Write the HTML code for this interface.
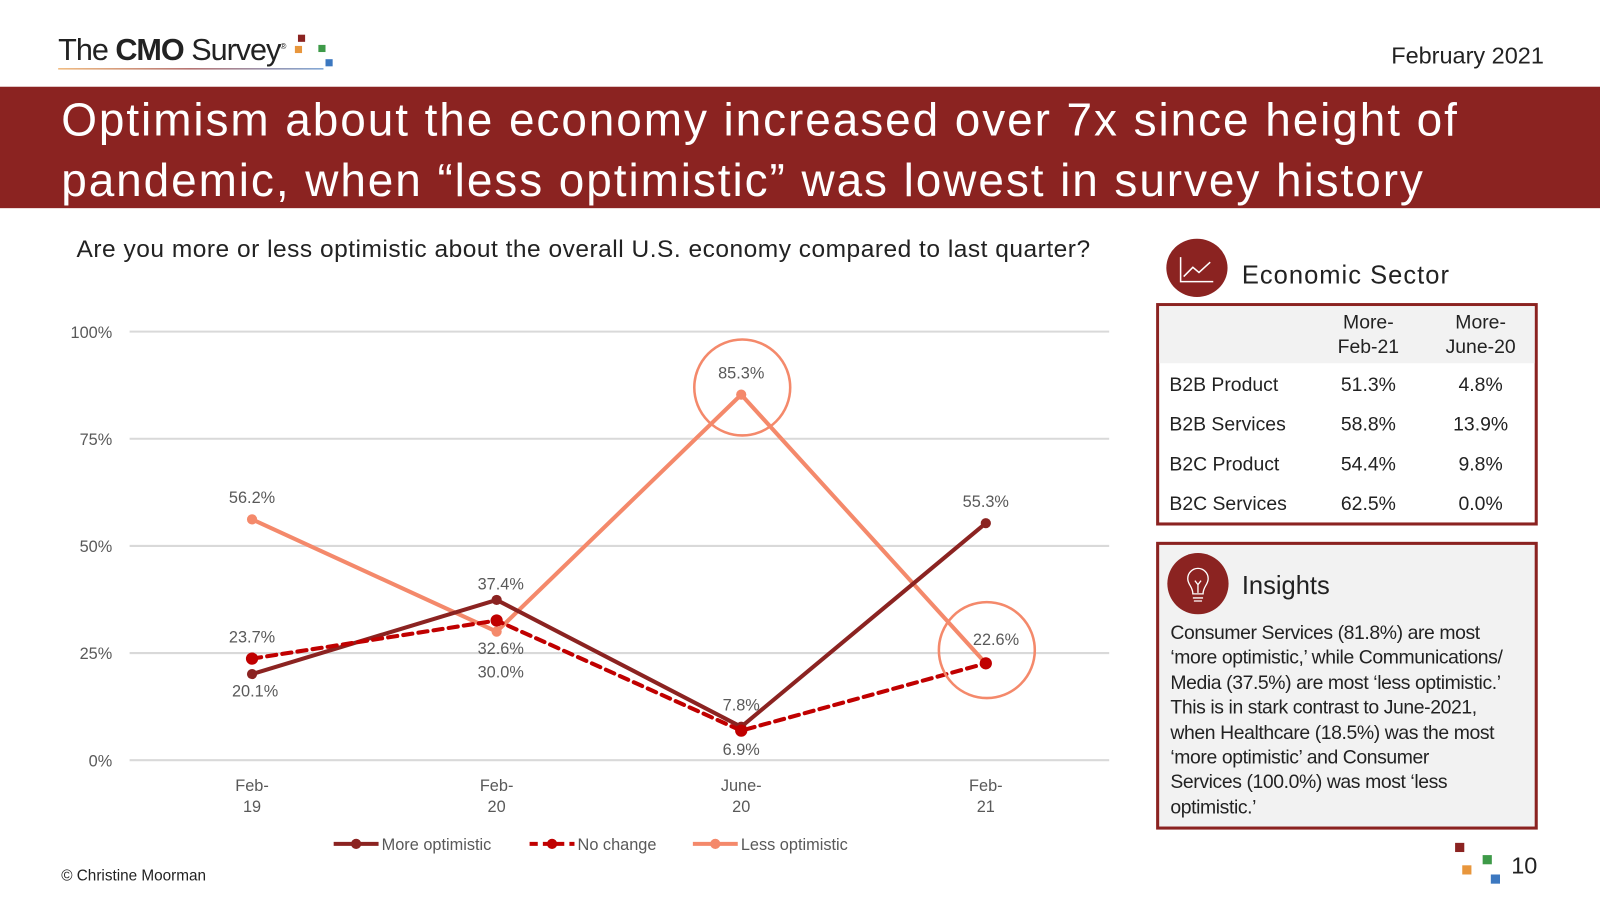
<!DOCTYPE html>
<html><head><meta charset="utf-8"><style>
html,body{margin:0;padding:0;background:#fff;width:1600px;height:900px;overflow:hidden}
#w{position:absolute;left:0;top:0;width:1568px;height:882px;transform:scale(1.020408);transform-origin:0 0;font-family:"Liberation Sans",sans-serif;color:#222}
.a{position:absolute;white-space:nowrap}
</style></head><body>
<div id="w">
<div class="a" style="left:57px;top:33px;font-size:30px;letter-spacing:-1px;color:#222">The <b>CMO</b> Survey<sup style="font-size:8px">®</sup></div>
<div class="a" style="left:292px;top:34px;width:40px;height:36px">
<div class="a" style="left:0;top:0;width:7px;height:7px;background:#8B2321"></div>
<div class="a" style="left:-3px;top:11px;width:7px;height:7px;background:#E8963C"></div>
<div class="a" style="left:20px;top:10px;width:7px;height:7px;background:#3E9A48"></div>
<div class="a" style="left:27px;top:24px;width:7px;height:7px;background:#3C78C0"></div></div>
<div class="a" style="left:57px;top:67px;width:260px;height:1px;background:linear-gradient(90deg,#e8963c,#8B2321,#3c78c0)"></div>
<div class="a" style="right:55px;top:41px;font-size:23px">February 2021</div>
<div class="a" style="left:0;top:85px;width:1568px;height:119px;background:#8B2321"></div>
<div class="a" style="left:60px;top:88px;font-size:45px;line-height:59px;color:#fff;letter-spacing:1.9px">Optimism about the economy increased over 7x since height of<br>pandemic, when “less optimistic” was lowest in survey history</div>
<div class="a" style="left:75px;top:231px;font-size:24px;letter-spacing:0.5px">Are you more or less optimistic about the overall U.S. economy compared to last quarter?</div>
<svg class="a" style="left:0;top:0" width="1120" height="882" id="chart"></svg>
<div class="a" style="left:1143px;top:234px;width:60px;height:57px;border-radius:50%;background:#8B2321">
<svg width="60" height="57"><path d="M14 18 V42 H46" stroke="#fff" fill="none" stroke-width="1.5"/><path d="M17 37 L26 28 L32 33 L43 23" stroke="#fff" fill="none" stroke-width="1.5"/></svg></div>
<div class="a" style="left:1217px;top:256px;font-size:25px;letter-spacing:1px">Economic Sector</div>
<div class="a" style="left:1133px;top:297px;width:368px;height:212px;border:3px solid #8B2321;background:#fff;font-size:19px">
<div class="a" style="left:0;top:0;width:368px;height:56px;background:#f2f2f2"></div>
<div class="a" style="left:170px;top:5px;width:70px;text-align:center;line-height:24px">More-<br>Feb-21</div>
<div class="a" style="left:273px;top:5px;width:84px;text-align:center;line-height:24px">More-<br>June-20</div>
<div id="rows"></div></div>
<div class="a" style="left:1133px;top:531px;width:368px;height:276px;border:3px solid #8B2321;background:#f2f2f2">
<div class="a" style="left:8px;top:8px;width:60px;height:60px;border-radius:50%;background:#8B2321"><svg width="60" height="60"><path d="M25 44 H35 M25 40 C25 33 20 31 20 25 A10 10 0 0 1 40 25 C40 31 35 33 35 40 Z M26 47 H34 M27 27 L30 31 L33 27 M30 31 V39" stroke="#fff" fill="none" stroke-width="1.3"/></svg></div>
<div class="a" style="left:81px;top:26px;font-size:25px">Insights</div>
<div class="a" style="left:11px;top:75px;font-size:19px;line-height:24.4px;letter-spacing:-0.4px">Consumer Services (81.8%) are most<br>‘more optimistic,’ while Communications/<br>Media (37.5%) are most ‘less optimistic.’<br>This is in stark contrast to June-2021,<br>when Healthcare (18.5%) was the most<br>‘more optimistic’ and Consumer<br>Services (100.0%) was most ‘less<br>optimistic.’</div></div>
<div class="a" style="left:60px;top:850px;font-size:15px">© Christine Moorman</div>
<div class="a" style="left:1426px;top:826px;width:9px;height:9px;background:#8B2321"></div>
<div class="a" style="left:1433px;top:848px;width:9px;height:9px;background:#E8963C"></div>
<div class="a" style="left:1453px;top:838px;width:9px;height:9px;background:#3E9A48"></div>
<div class="a" style="left:1461px;top:857px;width:9px;height:9px;background:#3C78C0"></div>
<div class="a" style="left:1481px;top:835px;font-size:23px">10</div>
</div>
<script>
const categories=["Feb-\n19","Feb-\n20","June-\n20","Feb-\n21"];
const moreOptimistic=[20.1,37.4,7.8,55.3];
const noChange=[23.7,32.6,6.9,22.6];
const lessOptimistic=[56.2,30.0,85.3,22.6];
const yTicks=[0,25,50,75,100];
const sectors=["B2B Product","B2B Services","B2C Product","B2C Services"];
const moreFeb21=["51.3%","58.8%","54.4%","62.5%"];
const moreJune20=["4.8%","13.9%","9.8%","0.0%"];

const NS="http://www.w3.org/2000/svg",svg=document.getElementById('chart');
const X=i=>247+i*239.7, Y=v=>745-v*4.2;
function mk(t,a,p){const e=document.createElementNS(NS,t);for(const k in a)e.setAttribute(k,a[k]);(p||svg).appendChild(e);return e;}
yTicks.forEach(t=>{const l=mk('line',{x1:127,x2:1087,y1:Y(t),y2:Y(t),stroke:'#d9d9d9','stroke-width':2});


const tx=mk('text',{x:110,y:Y(t)+6,'text-anchor':'end','font-size':16,fill:'#595959'});tx.textContent=t+'%';

});
categories.forEach((c,i)=>{c.split('\n').forEach((s,j)=>{const t=mk('text',{x:X(i),y:775+j*21,'text-anchor':'middle','font-size':16,fill:'#595959'});t.textContent=s;

});});
const series=[
 {d:lessOptimistic,c:'#F4896B',dash:null,name:'less-optimistic',lab:[-16,45,-16,-18],dx:[0,4,0,10]},
 {d:moreOptimistic,c:'#8B2321',dash:null,name:'more-optimistic',lab:[22,-10,-16,-16],dx:[3,4,0,0]},
 {d:noChange,c:'#C00000',dash:'9,6',name:'no-change',lab:[-16,33,24,null],dx:[0,4,0,0]}];
series.forEach(s=>{const pts=s.d.map((v,i)=>X(i)+','+Y(v)).join(' ');
const pl=mk('polyline',{points:pts,fill:'none',stroke:s.c,'stroke-width':4,'stroke-dasharray':s.dash||'none','stroke-linecap':s.dash?'round':'butt','stroke-linejoin':'round'});


s.d.forEach((v,i)=>{const c=mk('circle',{cx:X(i),cy:Y(v),r:s.dash?6:5,fill:s.c});


if(s.lab[i]===null)return;
const t=mk('text',{x:X(i)+s.dx[i],y:Y(v)+s.lab[i],'text-anchor':'middle','font-size':16,fill:'#595959'});t.textContent=v.toFixed(1)+'%';

});});
[[2,lessOptimistic[2],-7],[3,lessOptimistic[3],-13]].forEach(([i,v,o])=>{const c=mk('circle',{cx:X(i)+1,cy:Y(v)+o,r:47,fill:'none',stroke:'#F4896B','stroke-width':2.5});

});
[['#8B2321',null,'More optimistic',327],['#C00000','8,5','No change',519],['#F4896B',null,'Less optimistic',679]].forEach(([c,d,n,x])=>{
const g=mk('g',{});


mk('line',{x1:x,x2:x+44,y1:827,y2:827,stroke:c,'stroke-width':4,'stroke-dasharray':d||'none'},g);
mk('circle',{cx:x+22,cy:827,r:5,fill:c},g);
const t=mk('text',{x:x+47,y:833,'font-size':16,fill:'#595959'},g);t.textContent=n;});
const rows=document.getElementById('rows');
sectors.forEach((s,i)=>{const y=67+i*39;
[[s,10,'left',150],[moreFeb21[i],170,'center',70],[moreJune20[i],273,'center',84]].forEach(([t,x,al,w])=>{
const d=document.createElement('div');d.className='a';d.style.cssText=`left:${x}px;top:${y}px;width:${w}px;text-align:${al}`;d.textContent=t;


rows.appendChild(d);});});
</script>
</body></html>
